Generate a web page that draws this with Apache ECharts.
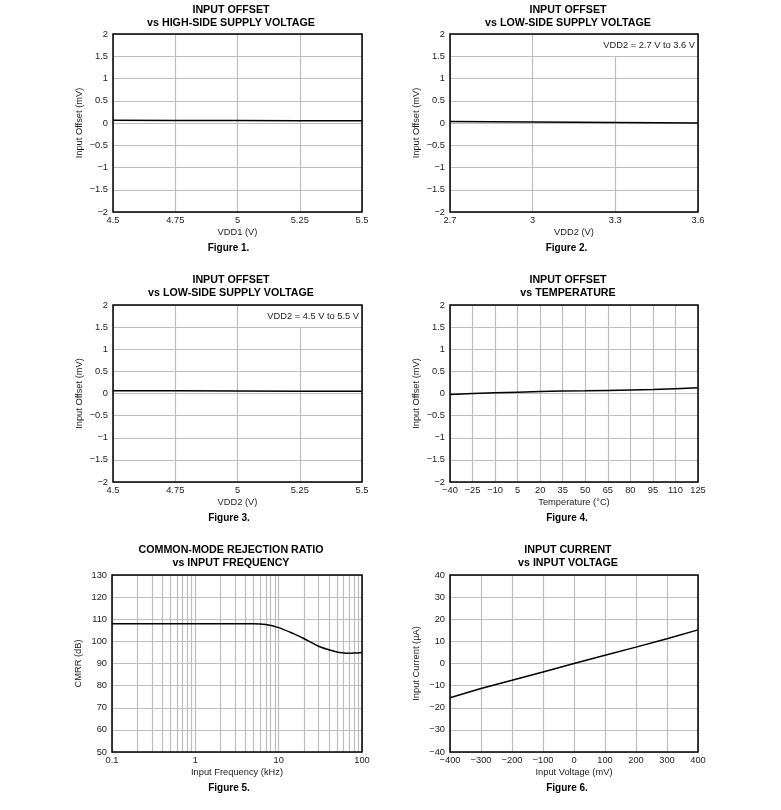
<!DOCTYPE html>
<html>
<head>
<meta charset="utf-8">
<script src="https://cdn.jsdelivr.net/npm/echarts@6/dist/echarts.min.js"></script>
<style>
html,body{margin:0;padding:0;background:#fff;}
#c{width:781px;height:810px;}
</style>
</head>
<body>
<div id="c"></div>
<script>
// ---- data ----
const fig1X = [4.5, 4.75, 5, 5.25, 5.5];
const fig1Y = [0.06, 0.055, 0.055, 0.05, 0.05];
const fig2X = [2.7, 3.0, 3.3, 3.6];
const fig2Y = [0.035, 0.025, 0.01, 0.0];
const fig3X = [4.5, 4.75, 5, 5.25, 5.5];
const fig3Y = [0.06, 0.06, 0.055, 0.05, 0.05];
const tempCats = ['-40','-25','-10','5','20','35','50','65','80','95','110','125'];
const fig4Y = [-0.02, 0.0, 0.015, 0.03, 0.045, 0.055, 0.06, 0.07, 0.08, 0.09, 0.11, 0.13];
const fig5X = [0.1, 0.2, 0.5, 1, 2, 5, 7, 10, 15, 20, 30, 40, 50, 60, 70, 80, 100];
const fig5Y = [108, 108, 108, 108, 108, 108, 107.6, 106.2, 103.5, 101.3, 97.8, 96.2, 95.2, 94.8, 94.6, 94.7, 95];
const fig5Minor = [0.2,0.3,0.4,0.5,0.6,0.7,0.8,0.9,2,3,4,5,6,7,8,9,20,30,40,50,60,70,80,90];
const fig6X = [-400, -300, -200, -100, 0, 100, 200, 300, 400];
const fig6Y = [-15.5, -11.3, -7.6, -3.8, 0, 3.7, 7.4, 11.2, 15.2];

const titles = [
  ['INPUT OFFSET', 'vs HIGH-SIDE SUPPLY VOLTAGE'],
  ['INPUT OFFSET', 'vs LOW-SIDE SUPPLY VOLTAGE'],
  ['INPUT OFFSET', 'vs LOW-SIDE SUPPLY VOLTAGE'],
  ['INPUT OFFSET', 'vs TEMPERATURE'],
  ['COMMON-MODE REJECTION RATIO', 'vs INPUT FREQUENCY'],
  ['INPUT CURRENT', 'vs INPUT VOLTAGE']
];
const captions = ['Figure 1.', 'Figure 2.', 'Figure 3.', 'Figure 4.', 'Figure 5.', 'Figure 6.'];
const xNames = ['VDD1 (V)', 'VDD2 (V)', 'VDD2 (V)', 'Temperature (°C)', 'Input Frequency (kHz)', 'Input Voltage (mV)'];
const yNames = ['Input Offset (mV)', 'Input Offset (mV)', 'Input Offset (mV)', 'Input Offset (mV)', 'CMRR (dB)', 'Input Current (µA)'];
const notes = ['', 'VDD2 = 2.7 V to 3.6 V', 'VDD2 = 4.5 V to 5.5 V', '', '', ''];

// ---- layout ----
const FONT = '"Liberation Sans", Arial, sans-serif';
const grids = [
  {left:113, top:34, width:249, height:178},
  {left:450, top:34, width:248, height:178},
  {left:113, top:305, width:249, height:177},
  {left:450, top:305, width:248, height:177},
  {left:112, top:575, width:250, height:177},
  {left:450, top:575, width:248, height:177}
];
const titleCx = [231, 568, 231, 568, 231, 568];
const titleY = [10, 10, 280, 280, 550, 550];
const capCx = [228.5, 566.5, 229, 567, 229, 567];
const capY = [248.5, 248.5, 518.5, 518.5, 788.5, 788.5];

const minus = v => String(v).replace('-', '\u2212');
const gridColor = '#bdbdbd';
const txt = '#1a1a1a';

function xAxisBase(i) {
  return {
    gridIndex: i,
    name: xNames[i], nameLocation: 'middle', nameGap: 16,
    nameTextStyle: {fontFamily: FONT, fontSize: 9.3, color: txt},
    axisLine: {show: false}, axisTick: {show: false},
    axisLabel: {fontFamily: FONT, fontSize: 9.3, color: txt, margin: 4, formatter: minus},
    splitLine: {show: true, lineStyle: {color: gridColor, width: 1.2}}
  };
}
function yAxisBase(i, min, max, interval) {
  return {
    type: 'value', gridIndex: i, min: min, max: max, interval: interval,
    name: yNames[i], nameLocation: 'middle', nameGap: 29,
    nameTextStyle: {fontFamily: FONT, fontSize: 9.3, color: txt},
    axisLine: {show: false}, axisTick: {show: false},
    axisLabel: {fontFamily: FONT, fontSize: 9.3, color: txt, margin: 5, formatter: minus},
    splitLine: {show: true, lineStyle: {color: gridColor, width: 1.2}}
  };
}

const xAxes = [
  Object.assign(xAxisBase(0), {type: 'value', min: 4.5, max: 5.5, interval: 0.25}),
  Object.assign(xAxisBase(1), {type: 'value', min: 2.7, max: 3.6, interval: 0.3}),
  Object.assign(xAxisBase(2), {type: 'value', min: 4.5, max: 5.5, interval: 0.25}),
  Object.assign(xAxisBase(3), {type: 'category', data: tempCats, boundaryGap: false,
    splitLine: {show: true, interval: 0, lineStyle: {color: gridColor, width: 1.2}},
    axisLabel: {fontFamily: FONT, fontSize: 9.3, color: txt, margin: 4, interval: 0, formatter: minus}}),
  Object.assign(xAxisBase(4), {type: 'log', logBase: 10, min: 0.1, max: 100}),
  Object.assign(xAxisBase(5), {type: 'value', min: -400, max: 400, interval: 100})
];
const yAxes = [
  yAxisBase(0, -2, 2, 0.5),
  yAxisBase(1, -2, 2, 0.5),
  yAxisBase(2, -2, 2, 0.5),
  yAxisBase(3, -2, 2, 0.5),
  yAxisBase(4, 50, 130, 10),
  yAxisBase(5, -40, 40, 10)
];

const lineStyle = {color: '#000', width: 1.5};
function mkSeries(i, data, extra) {
  return Object.assign({
    type: 'line', xAxisIndex: i, yAxisIndex: i, data: data,
    showSymbol: false, symbol: 'none', lineStyle: lineStyle, z: 5, silent: true
  }, extra || {});
}
const zip = (a, b) => a.map((v, k) => [v, b[k]]);

const series = [
  mkSeries(0, zip(fig1X, fig1Y)),
  mkSeries(1, zip(fig2X, fig2Y)),
  mkSeries(2, zip(fig3X, fig3Y)),
  mkSeries(3, fig4Y),
  mkSeries(4, zip(fig5X, fig5Y), {
    smooth: 0.3,
    markLine: {
      silent: true, symbol: 'none', label: {show: false}, z: 1,
      lineStyle: {color: gridColor, width: 1.2, type: 'solid'},
      data: fig5Minor.map(v => ({xAxis: v}))
    }
  }),
  mkSeries(5, zip(fig6X, fig6Y))
];

const graphics = [];
for (let i = 0; i < 6; i++) {
  graphics.push({type: 'text', x: titleCx[i], y: titleY[i], z: 20,
    style: {text: titles[i][0], font: 'bold 10.7px ' + FONT, fill: '#000', align: 'center', verticalAlign: 'middle'}});
  graphics.push({type: 'text', x: titleCx[i], y: titleY[i] + 13.3, z: 20,
    style: {text: titles[i][1], font: 'bold 10.7px ' + FONT, fill: '#000', align: 'center', verticalAlign: 'middle'}});
  graphics.push({type: 'text', x: capCx[i], y: capY[i], z: 20,
    style: {text: captions[i], font: 'bold 10px ' + FONT, fill: '#000', align: 'center', verticalAlign: 'middle'}});
  if (notes[i]) {
    const g = grids[i];
    graphics.push({type: 'rect', z: 15, shape: {x: g.left + g.width - 97, y: g.top + 1, width: 96, height: 21},
      style: {fill: '#fff'}});
    graphics.push({type: 'text', z: 20, x: g.left + g.width - 3, y: g.top + 11,
      style: {text: notes[i], font: '9.3px ' + FONT, fill: txt, align: 'right', verticalAlign: 'middle'}});
  }
}

const chart = echarts.init(document.getElementById('c'), null, {renderer: 'canvas'});
chart.setOption({
  backgroundColor: '#fff',
  animation: false,
  grid: grids.map(g => Object.assign({show: true, borderColor: '#000', borderWidth: 1.5, backgroundColor: 'transparent', z: 10}, g)),
  xAxis: xAxes,
  yAxis: yAxes,
  series: series,
  graphic: graphics
});
</script>
</body>
</html>
